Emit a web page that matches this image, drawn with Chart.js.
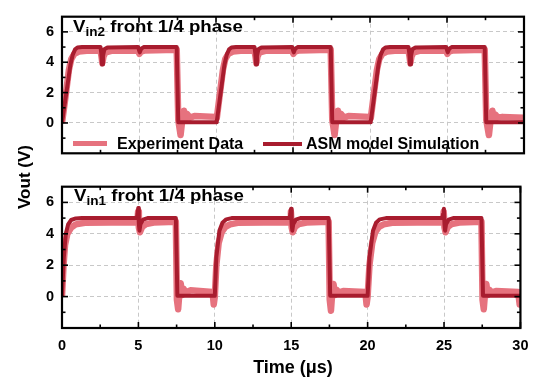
<!DOCTYPE html>
<html><head><meta charset="utf-8">
<script src="https://cdn.jsdelivr.net/npm/chart.js@4"></script>
<style>
body{margin:0;background:#fff;width:538px;height:384px;overflow:hidden;position:relative;font-family:"Liberation Sans",Arial,sans-serif;font-weight:bold;}
canvas{position:absolute;left:0}
#c1{top:0}
#c2{top:170px}
.t{position:absolute;white-space:nowrap;color:#000;}
.title{font-size:16.5px;line-height:16px;transform:scaleX(1.13);transform-origin:0 0;}
.title sub{font-size:12px;vertical-align:baseline;position:relative;top:4px;}
.leg{font-size:16px;line-height:16px;}
.sw{position:absolute;}
</style>
</head><body>
<canvas id="c1" width="538" height="170"></canvas>
<canvas id="c2" width="538" height="214"></canvas>
<div class="t title" style="left:73px;top:17.5px">V<sub>in2</sub> front 1/4 phase</div>
<div class="t title" style="left:74px;top:186.5px">V<sub>in1</sub> front 1/4 phase</div>
<div class="sw" style="left:73px;top:141px;width:34px;height:5px;background:#E6727E"></div>
<div class="t leg" style="left:117px;top:135.5px">Experiment Data</div>
<div class="sw" style="left:263px;top:141.5px;width:39px;height:4px;background:#A81C2E"></div>
<div class="t leg" style="left:306px;top:135.5px">ASM model Simulation</div>
<div class="t" style="left:24px;top:177px;font-size:17px;line-height:17px;transform:translate(-50%,-50%) rotate(-90deg);">Vout (V)</div>
<div class="t" style="left:293px;top:358px;font-size:18px;line-height:18px;transform:translateX(-50%);">Time (μs)</div>
<script>
const xMajorTicks = [0,5,10,15,20,25,30];
const xMinorTicks = [2.5,7.5,12.5,17.5,22.5,27.5];
const yMajorTicks = [0,2,4,6];
const yMinorTicks = [-1,1,3,5];

const simVin2 = [[0,0],[0.55,3.85],[0.7,4.5],[0.85,4.85],[1.0,4.97],[1.3,5.0],[2.5,5.0],[2.55,4.6],[2.6,3.85],[2.66,4.4],[2.75,4.85],[2.95,4.97],[4.95,5.0],[5.0,4.8],[5.05,4.65],[5.15,4.9],[5.3,5.0],[7.45,5.0],[7.55,0.05],[10.0,0.05],[10.05,0.1],[10.55,3.85],[10.7,4.5],[10.85,4.85],[11.0,4.97],[11.3,5.0],[12.5,5.0],[12.55,4.6],[12.6,3.85],[12.66,4.4],[12.75,4.85],[12.95,4.97],[14.95,5.0],[15.0,4.8],[15.05,4.65],[15.15,4.9],[15.3,5.0],[17.45,5.0],[17.55,0.05],[20.0,0.05],[20.05,0.1],[20.55,3.85],[20.7,4.5],[20.85,4.85],[21.0,4.97],[21.3,5.0],[22.5,5.0],[22.55,4.6],[22.6,3.85],[22.66,4.4],[22.75,4.85],[22.95,4.97],[24.95,5.0],[25.0,4.8],[25.05,4.65],[25.15,4.9],[25.3,5.0],[27.45,5.0],[27.55,0.05],[30,0.05]];

const expVin2 = [[0,0],[0.2,1.5],[0.45,3.5],[0.6,4.2],[0.8,4.55],[1.1,4.7],[1.6,4.75],[2.5,4.78],[2.56,4.4],[2.62,3.95],[2.7,4.4],[2.85,4.65],[3.2,4.75],[4.95,4.78],[5.02,4.55],[5.12,4.7],[5.4,4.78],[7.45,4.82],[7.55,0.2],[7.7,-0.8],[7.8,0.1],[7.92,0.8],[8.02,0.2],[8.12,0.6],[8.3,0.35],[8.6,0.45],[9.98,0.4],[10.05,0.3],[10.2,1.5],[10.45,3.5],[10.6,4.2],[10.8,4.55],[11.1,4.7],[11.6,4.75],[12.5,4.78],[12.56,4.4],[12.62,3.95],[12.7,4.4],[12.85,4.65],[13.2,4.75],[14.95,4.78],[15.02,4.55],[15.12,4.7],[15.4,4.78],[17.45,4.82],[17.55,0.2],[17.7,-0.8],[17.8,0.1],[17.92,0.8],[18.02,0.2],[18.12,0.6],[18.3,0.35],[18.6,0.45],[19.98,0.4],[20.05,0.3],[20.2,1.5],[20.45,3.5],[20.6,4.2],[20.8,4.55],[21.1,4.7],[21.6,4.75],[22.5,4.78],[22.56,4.4],[22.62,3.95],[22.7,4.4],[22.85,4.65],[23.2,4.75],[24.95,4.78],[25.02,4.55],[25.12,4.7],[25.4,4.78],[27.45,4.82],[27.55,0.2],[27.72,-0.8],[27.82,0.1],[27.95,0.8],[28.05,0.2],[28.15,0.55],[28.3,0.35],[28.6,0.4],[30,0.35]];

const simVin1 = [[0,0],[0.12,2.5],[0.25,4.0],[0.4,4.6],[0.6,4.88],[0.9,4.98],[1.3,5.0],[4.9,5.0],[4.95,5.3],[4.99,5.65],[5.03,4.6],[5.07,4.2],[5.13,4.6],[5.3,4.9],[5.6,5.0],[7.45,5.0],[7.55,0.05],[10.0,0.05],[10.1,2.5],[10.3,4.2],[10.5,4.7],[10.75,4.92],[11.1,5.0],[14.9,5.0],[14.95,5.3],[14.99,5.6],[15.03,4.6],[15.07,4.2],[15.13,4.6],[15.3,4.9],[15.6,5.0],[17.45,5.0],[17.55,0.05],[20.0,0.05],[20.12,2.5],[20.35,4.2],[20.55,4.7],[20.8,4.92],[21.2,5.0],[24.9,5.0],[24.95,5.3],[24.99,5.6],[25.03,4.6],[25.07,4.2],[25.13,4.6],[25.3,4.9],[25.6,5.0],[27.45,5.0],[27.55,0.05],[30,0.05]];

const expVin1 = [[0,0],[0.1,2.0],[0.2,3.3],[0.35,4.0],[0.6,4.4],[0.9,4.6],[1.5,4.7],[4.93,4.74],[4.98,5.4],[5.03,4.4],[5.1,4.1],[5.25,4.45],[5.5,4.62],[6.0,4.72],[7.45,4.76],[7.52,-0.2],[7.6,-0.8],[7.68,0.2],[7.77,0.85],[7.86,0.1],[7.95,0.5],[8.1,0.25],[8.4,0.4],[9.85,0.3],[9.93,-0.5],[10.0,0.0],[10.1,2.0],[10.25,3.4],[10.45,4.1],[10.7,4.45],[11.0,4.6],[11.5,4.7],[14.93,4.74],[14.98,5.4],[15.03,4.4],[15.1,4.1],[15.25,4.45],[15.5,4.62],[16.0,4.72],[17.45,4.76],[17.52,-0.2],[17.6,-0.9],[17.68,0.2],[17.77,0.8],[17.86,0.1],[17.95,0.45],[18.1,0.25],[18.4,0.35],[19.85,0.3],[19.93,-0.5],[20.0,0.0],[20.12,2.0],[20.3,3.4],[20.5,4.1],[20.75,4.45],[21.05,4.6],[21.6,4.7],[24.93,4.74],[24.98,5.4],[25.03,4.4],[25.1,4.1],[25.25,4.45],[25.5,4.62],[26.0,4.72],[27.45,4.76],[27.52,-0.2],[27.6,-0.8],[27.68,0.2],[27.77,0.8],[27.86,0.1],[27.95,0.45],[28.1,0.25],[28.4,0.35],[29.85,0.3],[29.95,-0.5],[30,0.0]];

const EXP_COLOR = '#E6727E';
const SIM_COLOR = '#A81C2E';
const FONT = '"Liberation Sans", Arial, sans-serif';

const framePlugin = {
  id: 'frame',
  afterDatasetsDraw(chart) {
    const {ctx, chartArea: a, scales: {x, y}} = chart;
    ctx.save();
    ctx.strokeStyle = '#000';
    ctx.lineCap = 'butt';
    const seg = (x1, y1, x2, y2) => { ctx.beginPath(); ctx.moveTo(x1, y1); ctx.lineTo(x2, y2); ctx.stroke(); };
    ctx.lineWidth = 1.6;
    xMajorTicks.forEach(v => { const p = x.getPixelForValue(v); seg(p, a.bottom, p, a.bottom - 6); seg(p, a.top, p, a.top + 6); });
    xMinorTicks.forEach(v => { const p = x.getPixelForValue(v); seg(p, a.bottom, p, a.bottom - 3.5); seg(p, a.top, p, a.top + 3.5); });
    yMajorTicks.forEach(v => { const p = y.getPixelForValue(v); seg(a.left, p, a.left + 6, p); seg(a.right, p, a.right - 6, p); });
    yMinorTicks.forEach(v => { const p = y.getPixelForValue(v); seg(a.left, p, a.left + 3.5, p); seg(a.right, p, a.right - 3.5, p); });
    ctx.lineWidth = 2.2;
    ctx.strokeRect(a.left, a.top, a.right - a.left, a.bottom - a.top);
    ctx.restore();
  }
};

function toPts(arr) { return arr.map(p => ({x: p[0], y: p[1]})); }

function makeChart(id, sim, exp, showX, xAxisHeight) {
  return new Chart(document.getElementById(id), {
    type: 'scatter',
    data: {
      datasets: [
        {label: 'ASM model Simulation', data: toPts(sim), showLine: true, borderColor: SIM_COLOR, borderWidth: 4, pointRadius: 0, tension: 0, borderJoinStyle: 'round'},
        {label: 'Experiment Data', data: toPts(exp), showLine: true, borderColor: EXP_COLOR, borderWidth: 6.5, pointRadius: 0, tension: 0, borderJoinStyle: 'round'}
      ]
    },
    options: {
      responsive: false,
      animation: false,
      devicePixelRatio: 1,
      layout: {padding: {left: 0, right: 14, top: 7, bottom: 0}},
      plugins: {legend: {display: false}, tooltip: {enabled: false}},
      scales: {
        x: {
          type: 'linear', min: 0, max: 30,
          afterBuildTicks: s => { s.ticks = xMajorTicks.map(v => ({value: v})); },
          afterFit: s => { s.height = xAxisHeight; },
          grid: {color: '#c8c8c8', lineWidth: 1, drawTicks: false},
          border: {display: false, dash: [4, 3]},
          ticks: {display: showX, color: '#000', padding: 9.5, maxRotation: 0, font: {family: FONT, size: 14.5, weight: 'bold'}}
        },
        y: {
          type: 'linear', min: -2, max: 7,
          afterBuildTicks: s => { s.ticks = yMajorTicks.map(v => ({value: v})); },
          afterFit: s => { s.width = 62; },
          grid: {color: '#c8c8c8', lineWidth: 1, drawTicks: false},
          border: {display: false, dash: [4, 3]},
          ticks: {color: '#000', padding: 8, font: {family: FONT, size: 14.5, weight: 'bold'}}
        }
      }
    },
    plugins: [framePlugin]
  });
}

makeChart('c1', simVin2, expVin2, false, 12);
makeChart('c2', simVin1, expVin1, true, 56);
</script>
</body></html>
